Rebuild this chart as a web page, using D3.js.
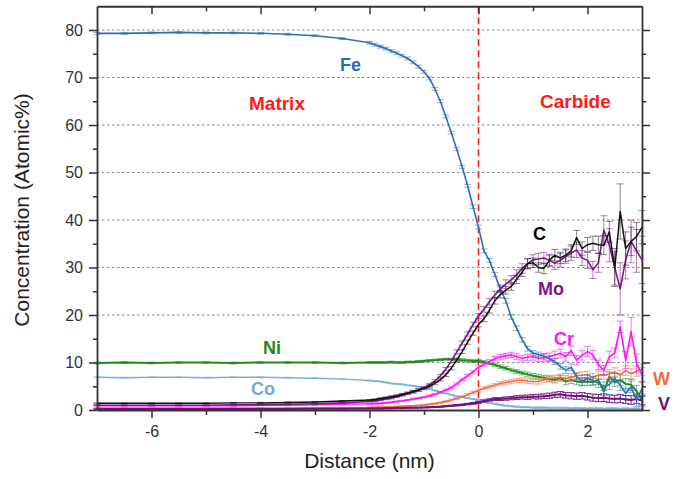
<!DOCTYPE html>
<html>
<head>
<meta charset="utf-8">
<script src="https://cdn.jsdelivr.net/npm/d3@7"></script>
<style>
body { margin: 0; background: #fff; }
svg text { font-family: "Liberation Sans", Arial, sans-serif; }
</style>
</head>
<body>
<svg id="chart" width="687" height="479"></svg>
<script>
// distance from the interface (nm)
var distance = [-7, -6.5, -6, -5.5, -5, -4.5, -4, -3.5, -3, -2.5, -2,
  -1.9, -1.8, -1.7, -1.6, -1.5, -1.4, -1.3, -1.2, -1.1, -1.0,
  -0.9, -0.8, -0.7, -0.6, -0.5, -0.4, -0.3, -0.2, -0.1, 0,
  0.1, 0.2, 0.3, 0.4, 0.5, 0.6, 0.7, 0.8, 0.9, 1.0,
  1.1, 1.2, 1.3, 1.4, 1.5, 1.6, 1.7, 1.8, 1.9, 2.0,
  2.1, 2.2, 2.3, 2.4, 2.5, 2.6, 2.7, 2.8, 2.9, 3.0];

var feConc = [79.3, 79.3, 79.4, 79.5, 79.4, 79.4, 79.3, 79.1, 78.8, 78.2, 77.3,
  76.9, 76.5, 76.1, 75.6, 75.1, 74.6, 74.0, 73.2, 72.3, 71.2,
  69.8, 67.6, 65.0, 61.8, 58.4, 54.9, 51.2, 47.2, 42.8, 38.5,
  33.5, 31.5, 28.5, 25.5, 23.0, 19.6, 17.2, 14.8, 12.9, 12.0,
  11.7, 11.3, 10.8, 10.2, 9.2, 8.4, 9.0, 7.0, 6.0, 6.7,
  6.2, 5.6, 5.0, 5.3, 6.7, 5.2, 3.5, 4.9, 2.1, 4.5];
var feErr = [0.2, 0.2, 0.2, 0.2, 0.2, 0.2, 0.2, 0.2, 0.2, 0.2, 0.3,
  0.3, 0.3, 0.3, 0.3, 0.3, 0.3, 0.3, 0.3, 0.3, 0.3,
  0.3, 0.3, 0.3, 0.3, 0.3, 0.3, 0.3, 0.3, 0.4, 0.4,
  0.4, 0.4, 0.4, 0.4, 0.5, 0.5, 0.5, 0.5, 0.5, 0.5,
  0.5, 0.6, 0.6, 0.6, 0.6, 0.7, 0.7, 0.7, 0.8, 0.8,
  0.8, 0.9, 0.9, 1.0, 1.0, 1.1, 1.1, 1.2, 1.3, 1.4];

var niConc = [9.9, 10.0, 9.9, 10.0, 10.0, 9.9, 10.0, 10.0, 10.0, 9.9, 10.0,
  10.0, 10.0, 10.0, 10.1, 10.0, 10.0, 10.1, 10.1, 10.2, 10.3,
  10.4, 10.5, 10.6, 10.7, 10.7, 10.6, 10.5, 10.4, 10.3, 10.3,
  10.1, 9.8, 9.5, 9.1, 8.8, 8.4, 8.1, 7.8, 7.5, 7.2,
  7.0, 6.8, 6.5, 6.3, 6.7, 6.0, 6.3, 6.0, 5.9, 6.0,
  5.9, 6.3, 3.9, 7.0, 5.9, 6.3, 5.5, 5.3, 4.0, 2.1];
var niErr = [0.2, 0.2, 0.2, 0.2, 0.2, 0.2, 0.2, 0.2, 0.2, 0.2, 0.2,
  0.2, 0.2, 0.2, 0.2, 0.2, 0.2, 0.2, 0.2, 0.2, 0.2,
  0.2, 0.2, 0.2, 0.2, 0.2, 0.3, 0.3, 0.3, 0.3, 0.3,
  0.3, 0.3, 0.3, 0.4, 0.4, 0.4, 0.4, 0.4, 0.5, 0.5,
  0.5, 0.5, 0.6, 0.6, 0.6, 0.7, 0.7, 0.7, 0.8, 0.8,
  0.8, 0.9, 0.9, 1.0, 1.0, 1.1, 1.1, 1.2, 1.2, 1.3];

var coConc = [6.9, 6.8, 6.9, 6.9, 6.8, 6.9, 6.9, 6.8, 6.7, 6.5, 6.2,
  6.1, 6.0, 5.8, 5.6, 5.5, 5.4, 5.2, 5.1, 4.9, 4.7,
  4.4, 4.1, 3.8, 3.5, 3.2, 2.9, 2.7, 2.5, 2.3, 2.1,
  1.8, 1.5, 1.3, 1.1, 0.9, 0.8, 0.7, 0.6, 0.6, 0.5,
  0.5, 0.5, 0.4, 0.4, 0.4, 0.4, 0.3, 0.4, 0.3, 0.3,
  0.3, 0.3, 0.2, 0.3, 0.3, 0.2, 0.3, 0.2, 0.3, 0.2];
var coErr = [0.1, 0.1, 0.1, 0.1, 0.1, 0.1, 0.1, 0.1, 0.1, 0.1, 0.1,
  0.1, 0.1, 0.1, 0.1, 0.1, 0.1, 0.1, 0.1, 0.1, 0.1,
  0.1, 0.1, 0.1, 0.1, 0.1, 0.1, 0.1, 0.1, 0.1, 0.1,
  0.15, 0.15, 0.15, 0.15, 0.15, 0.15, 0.15, 0.15, 0.15, 0.15,
  0.2, 0.2, 0.2, 0.2, 0.2, 0.2, 0.2, 0.2, 0.2, 0.2,
  0.25, 0.25, 0.25, 0.25, 0.25, 0.25, 0.25, 0.25, 0.25, 0.25];

var cConc = [1.4, 1.4, 1.4, 1.4, 1.4, 1.5, 1.5, 1.6, 1.7, 1.9, 2.1,
  2.2, 2.4, 2.6, 2.8, 3.0, 3.3, 3.6, 3.9, 4.2, 4.5,
  5.0, 5.6, 6.4, 7.4, 8.8, 10.5, 12.3, 14.3, 16.2, 18.0,
  19.2, 21.0, 23.0, 24.3, 25.2, 26.0, 27.5, 29.0, 30.8, 31.0,
  30.0, 29.8, 31.5, 32.6, 32.0, 32.6, 33.5, 36.3, 34.0, 34.8,
  35.1, 34.8, 34.7, 37.5, 29.8, 41.8, 34.0, 35.5, 36.5, 38.5];
var cErr = [0.1, 0.1, 0.1, 0.1, 0.1, 0.1, 0.1, 0.1, 0.1, 0.1, 0.1,
  0.15, 0.15, 0.15, 0.2, 0.2, 0.2, 0.2, 0.25, 0.25, 0.25,
  0.3, 0.3, 0.3, 0.35, 0.35, 0.4, 0.4, 0.45, 0.45, 0.5,
  0.6, 0.6, 0.7, 0.7, 0.8, 0.8, 0.9, 0.9, 1.0, 1.0,
  1.0, 1.1, 1.1, 1.2, 1.2, 1.3, 1.3, 1.5, 1.4, 1.5,
  1.5, 1.8, 2.0, 2.2, 3.5, 5.8, 3.5, 3.0, 3.0, 3.5];

var moConc = [1.0, 1.0, 1.0, 1.0, 1.0, 1.1, 1.1, 1.2, 1.3, 1.5, 1.8,
  1.9, 2.1, 2.3, 2.5, 2.8, 3.1, 3.4, 3.8, 4.2, 4.7,
  5.3, 6.1, 7.2, 8.6, 10.3, 12.2, 14.1, 16.0, 18.0, 19.8,
  21.2, 22.8, 24.2, 25.5, 26.5, 27.4, 28.5, 29.8, 30.8, 31.6,
  31.8, 32.0, 31.5, 30.9, 31.5, 32.3, 33.0, 33.7, 32.0, 31.5,
  29.5, 31.0, 37.9, 34.7, 30.0, 25.5, 31.6, 35.5, 33.5, 31.6];
var moErr = [0.1, 0.1, 0.1, 0.1, 0.1, 0.1, 0.1, 0.1, 0.1, 0.1, 0.1,
  0.15, 0.15, 0.15, 0.2, 0.2, 0.2, 0.2, 0.25, 0.25, 0.25,
  0.3, 0.3, 0.3, 0.35, 0.35, 0.4, 0.4, 0.45, 0.5, 0.5,
  0.6, 0.7, 0.8, 0.8, 0.9, 0.9, 1.0, 1.0, 1.1, 1.1,
  1.2, 1.2, 1.3, 1.3, 1.4, 1.4, 1.5, 1.6, 1.6, 1.7,
  1.8, 2.0, 3.0, 3.5, 4.0, 5.5, 4.0, 4.5, 4.5, 5.0];

var crConc = [0.9, 0.9, 0.9, 0.9, 0.9, 0.9, 1.0, 1.0, 1.1, 1.2, 1.3,
  1.35, 1.4, 1.5, 1.6, 1.8, 1.9, 2.1, 2.3, 2.5, 2.7,
  3.0, 3.3, 3.7, 4.2, 4.7, 5.5, 6.4, 7.2, 8.0, 9.0,
  9.6, 10.2, 10.8, 11.2, 11.4, 11.6, 11.2, 10.9, 11.1, 11.2,
  10.9, 11.0, 11.2, 11.6, 11.9, 11.2, 12.5, 10.5, 11.5, 12.3,
  11.6, 9.5, 8.4, 11.2, 12.0, 17.5, 10.5, 16.5, 9.8, 7.4];
var crErr = [0.1, 0.1, 0.1, 0.1, 0.1, 0.1, 0.1, 0.1, 0.1, 0.1, 0.1,
  0.1, 0.1, 0.1, 0.1, 0.1, 0.1, 0.1, 0.1, 0.1, 0.1,
  0.15, 0.15, 0.15, 0.2, 0.2, 0.2, 0.2, 0.25, 0.25, 0.3,
  0.35, 0.4, 0.45, 0.5, 0.5, 0.55, 0.6, 0.6, 0.65, 0.7,
  0.7, 0.75, 0.8, 0.8, 0.9, 0.9, 1.0, 1.0, 1.0, 1.1,
  0.9, 1.0, 1.0, 1.2, 1.0, 1.2, 1.8, 3.0, 2.0, 1.5];

var wConc = [0.4, 0.4, 0.4, 0.4, 0.4, 0.4, 0.4, 0.4, 0.45, 0.5, 0.55,
  0.6, 0.6, 0.65, 0.7, 0.75, 0.8, 0.85, 0.9, 0.95, 1.05,
  1.2, 1.35, 1.55, 1.8, 2.1, 2.4, 2.8, 3.2, 3.7, 4.1,
  4.6, 4.9, 5.2, 5.6, 5.8, 6.0, 6.2, 6.3, 6.1, 6.0,
  6.0, 6.4, 6.7, 6.7, 6.9, 6.6, 6.9, 7.2, 7.3, 7.4,
  6.9, 7.4, 7.3, 7.6, 8.0, 7.4, 8.3, 7.6, 8.2, 8.5];
var wErr = [0.1, 0.1, 0.1, 0.1, 0.1, 0.1, 0.1, 0.1, 0.1, 0.1, 0.1,
  0.1, 0.1, 0.1, 0.1, 0.1, 0.1, 0.1, 0.1, 0.1, 0.1,
  0.1, 0.15, 0.15, 0.15, 0.2, 0.2, 0.2, 0.25, 0.25, 0.3,
  0.3, 0.35, 0.35, 0.4, 0.4, 0.45, 0.45, 0.5, 0.5, 0.5,
  0.55, 0.55, 0.6, 0.6, 0.65, 0.65, 0.7, 0.7, 0.75, 0.75,
  0.8, 0.8, 0.85, 0.9, 0.9, 1.0, 1.0, 1.1, 1.1, 1.2];

var vConc = [0.2, 0.2, 0.2, 0.2, 0.2, 0.2, 0.2, 0.2, 0.25, 0.25, 0.3,
  0.3, 0.3, 0.35, 0.35, 0.4, 0.4, 0.45, 0.5, 0.5, 0.55,
  0.6, 0.65, 0.7, 0.8, 0.9, 1.0, 1.1, 1.25, 1.4, 1.6,
  1.9, 2.1, 2.3, 2.3, 2.4, 2.5, 2.6, 2.7, 2.7, 2.8,
  2.8, 2.9, 3.0, 3.2, 3.3, 3.1, 3.0, 2.9, 3.0, 2.8,
  2.6, 2.5, 2.6, 2.4, 2.3, 2.4, 2.2, 2.1, 2.3, 2.0];
var vErr = [0.05, 0.05, 0.05, 0.05, 0.05, 0.05, 0.05, 0.05, 0.05, 0.05, 0.05,
  0.05, 0.05, 0.05, 0.05, 0.05, 0.05, 0.05, 0.05, 0.05, 0.05,
  0.1, 0.1, 0.1, 0.1, 0.1, 0.15, 0.15, 0.15, 0.2, 0.2,
  0.25, 0.25, 0.3, 0.3, 0.35, 0.35, 0.4, 0.4, 0.45, 0.45,
  0.5, 0.5, 0.55, 0.55, 0.6, 0.6, 0.65, 0.65, 0.7, 0.7,
  0.75, 0.75, 0.8, 0.8, 0.8, 0.85, 0.85, 0.9, 0.9, 0.9];

var yTicks = [0, 10, 20, 30, 40, 50, 60, 70, 80];
var yMinor = [5, 15, 25, 35, 45, 55, 65, 75];
var gridVals = [10, 20, 30, 40, 50, 60, 70, 80];
var xTicks = [-6, -4, -2, 0, 2];
var xMinor = [-5, -3, -1, 1];

var G = {
  left: 97, right: 642, top: 6.25, bottom: 410
};

var series = [
  { name: 'Co', values: coConc, err: coErr, color: '#7aaedc', width: 1.5, barOpacity: 0.55 },
  { name: 'Ni', values: niConc, err: niErr, color: '#1f8a1f', width: 2, barOpacity: 0.55 },
  { name: 'W',  values: wConc,  err: wErr,  color: '#ef6a45', width: 1.5, barOpacity: 0.55 },
  { name: 'V',  values: vConc,  err: vErr,  color: '#6e137e', width: 2, barOpacity: 0.9 },
  { name: 'Cr', values: crConc, err: crErr, color: '#ff14ff', width: 1.6, barOpacity: 0.6 },
  { name: 'Fe', values: feConc, err: feErr, color: '#2a70b8', width: 1.6, barOpacity: 0.55 },
  { name: 'Mo', values: moConc, err: moErr, color: '#7d1489', width: 1.6, barOpacity: 0.55 },
  { name: 'C',  values: cConc,  err: cErr,  color: '#111111', width: 1.5, barOpacity: 0.5 }
];

// element labels and region labels: [text, x, baseline, color, size]
var labels = [
  ['Fe', 340, 71, '#2a6cb5', 18],
  ['Matrix', 249, 110, '#ff1a1a', 19],
  ['Carbide', 540, 108, '#ff1a1a', 19],
  ['C', 533, 240, '#000000', 18],
  ['Mo', 538, 295, '#7d1489', 18],
  ['Cr', 554, 345, '#ff14ff', 18],
  ['Ni', 263, 354, '#1f8a1f', 18],
  ['Co', 251, 395, '#6fa8dc', 18],
  ['W', 653, 385, '#ef6a45', 18],
  ['V', 658, 410, '#6e137e', 18]
];

var svg = d3.select('#chart');
var x = d3.scaleLinear().domain([-7, 3]).range([G.left, G.right]);
var y = d3.scaleLinear().domain([0, 85]).range([G.bottom, G.top]);

// dotted grid
svg.append('g')
  .selectAll('line')
  .data(gridVals)
  .enter()
  .append('line')
  .attr('x1', G.left)
  .attr('x2', G.right)
  .attr('y1', function(d) { return y(d); })
  .attr('y2', function(d) { return y(d); })
  .attr('stroke', '#8c8c8c')
  .attr('stroke-width', 1)
  .attr('stroke-dasharray', '2.5,2.5');

// interface
svg.append('line')
  .attr('x1', x(0)).attr('x2', x(0))
  .attr('y1', y(85)).attr('y2', y(0))
  .attr('stroke', '#ff2020')
  .attr('stroke-width', 1.6)
  .attr('stroke-dasharray', '7,4');

var line = d3.line()
  .x(function(d, i) { return x(distance[i]); })
  .y(function(d) { return y(d); });

series.forEach(function(s) {
  var g = svg.append('g');
  var pts = s.values.map(function(v, i) {
    return { x: x(distance[i]), lo: y(v - s.err[i]), hi: y(v + s.err[i]) };
  });
  var eb = g.append('g')
    .attr('stroke', s.color)
    .attr('stroke-opacity', s.barOpacity)
    .attr('stroke-width', 1);
  eb.selectAll('.bar').data(pts).enter().append('line')
    .attr('x1', function(d) { return d.x; })
    .attr('x2', function(d) { return d.x; })
    .attr('y1', function(d) { return d.lo; })
    .attr('y2', function(d) { return d.hi; });
  eb.selectAll('.cap-lo').data(pts).enter().append('line')
    .attr('x1', function(d) { return d.x - 3.5; })
    .attr('x2', function(d) { return d.x + 3.5; })
    .attr('y1', function(d) { return d.lo; })
    .attr('y2', function(d) { return d.lo; });
  eb.selectAll('.cap-hi').data(pts).enter().append('line')
    .attr('x1', function(d) { return d.x - 3.5; })
    .attr('x2', function(d) { return d.x + 3.5; })
    .attr('y1', function(d) { return d.hi; })
    .attr('y2', function(d) { return d.hi; });
  g.append('path')
    .datum(s.values)
    .attr('d', line)
    .attr('fill', 'none')
    .attr('stroke', s.color)
    .attr('stroke-width', s.width)
    .attr('stroke-linejoin', 'round');
});

function styleAxis(g, size) {
  g.select('.domain').attr('stroke', '#333').attr('stroke-width', 1.8);
  g.selectAll('.tick line').attr('stroke', '#333').attr('stroke-width', 1.5);
  g.selectAll('.tick text')
    .attr('font-size', size)
    .attr('fill', '#333')
    .style('font-family', '"Liberation Sans", Arial, sans-serif');
}
var noLabel = function() { return ''; };
var plain = function(d) { return String(d); };

// minor ticks first, no domain
[
  [d3.axisLeft(y).tickValues(yMinor).tickSize(4), G.left, 0],
  [d3.axisRight(y).tickValues(yMinor).tickSize(4), G.right, 0],
  [d3.axisBottom(x).tickValues(xMinor).tickSize(5), 0, G.bottom],
  [d3.axisTop(x).tickValues(xMinor).tickSize(-5), 0, G.top]
].forEach(function(a) {
  var g = svg.append('g')
    .attr('transform', 'translate(' + a[1] + ',' + a[2] + ')')
    .call(a[0].tickFormat(noLabel).tickSizeOuter(0));
  g.select('.domain').remove();
  styleAxis(g, 0);
});

var gl = svg.append('g')
  .attr('transform', 'translate(' + G.left + ',0)')
  .call(d3.axisLeft(y).tickValues(yTicks).tickSize(8).tickSizeOuter(0)
    .tickPadding(6).tickFormat(plain));
styleAxis(gl, 16);

var gr = svg.append('g')
  .attr('transform', 'translate(' + G.right + ',0)')
  .call(d3.axisRight(y).tickValues(yTicks).tickSize(8).tickSizeOuter(0)
    .tickFormat(noLabel));
styleAxis(gr, 0);

var gb = svg.append('g')
  .attr('transform', 'translate(0,' + G.bottom + ')')
  .call(d3.axisBottom(x).tickValues(xTicks).tickSize(8).tickSizeOuter(0)
    .tickPadding(8).tickFormat(plain));
styleAxis(gb, 16);

var gt = svg.append('g')
  .attr('transform', 'translate(0,' + G.top + ')')
  .call(d3.axisTop(x).tickValues(xTicks).tickSize(-8).tickSizeOuter(0)
    .tickFormat(noLabel));
styleAxis(gt, 0);

// axis titles
svg.append('text')
  .attr('transform', 'translate(29,210) rotate(-90)')
  .attr('text-anchor', 'middle')
  .attr('font-size', 21)
  .attr('fill', '#222')
  .text('Concentration (Atomic%)');
svg.append('text')
  .attr('x', (G.left + G.right) / 2)
  .attr('y', 468)
  .attr('text-anchor', 'middle')
  .attr('font-size', 21)
  .attr('fill', '#222')
  .text('Distance (nm)');

svg.append('g')
  .selectAll('text')
  .data(labels)
  .enter()
  .append('text')
  .attr('x', function(d) { return d[1]; })
  .attr('y', function(d) { return d[2]; })
  .attr('fill', function(d) { return d[3]; })
  .attr('font-size', function(d) { return d[4]; })
  .attr('font-weight', 'bold')
  .text(function(d) { return d[0]; });
</script>
</body>
</html>
